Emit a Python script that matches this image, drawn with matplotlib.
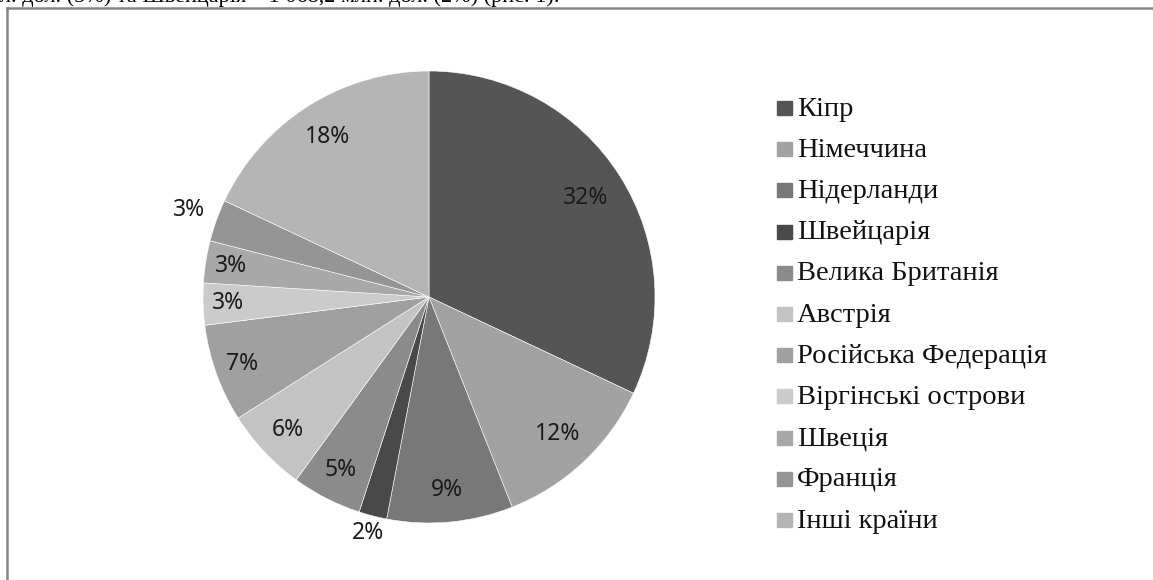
"""
Pie chart of investment by country (grayscale, Excel-style).
"""
import matplotlib.pyplot as plt
from matplotlib.lines import Line2D
import numpy as np

countries = ['Кіпр', 'Німеччина', 'Нідерланди', 'Швейцарія', 'Велика Британія',
             'Австрія', 'Російська Федерація', 'Віргінські острови', 'Швеція',
             'Франція', 'Інші країни']
shares = [32, 12, 9, 2, 5, 6, 7, 3, 3, 3, 18]
colors = ['#555555', '#a2a2a2', '#787878', '#494949', '#8b8b8b', '#c3c3c3',
          '#a0a0a0', '#cbcbcb', '#a8a8a8', '#959595', '#b5b5b5']
# radial position of each percentage label (fraction of radius)
label_dist = [0.82, 0.83, 0.86, 1.08, 0.86, 0.86, 0.88, 0.89, 0.885, 1.13, 0.84]

W, H = 1153, 580
fig = plt.figure(figsize=(W / 100, H / 100), dpi=100)

# pie axes: centre (429, 297) px, radius 226 px, limits +-1.1
cx, cy, r = 429, 297, 226
half = r * 1.1
ax = fig.add_axes([(cx - half) / W, (H - cy - half) / H, 2 * half / W, 2 * half / H])
wedges, _ = ax.pie(shares, colors=colors, startangle=90, counterclock=False,
                   wedgeprops=dict(edgecolor='white', linewidth=0.4))
ax.set_xlim(-1.1, 1.1)
ax.set_ylim(-1.1, 1.1)
ax.set_aspect('equal')
ax.axis('off')

for w, val, d in zip(wedges, shares, label_dist):
    ang = np.deg2rad((w.theta1 + w.theta2) / 2)
    ax.text(d * np.cos(ang), d * np.sin(ang), f'{val}%', ha='center', va='center',
            fontsize=16.5, family='Noto Sans', color='#1a1a1a')

# legend
for i, (name, c) in enumerate(zip(countries, colors)):
    y = 1 - (108 + i * 41.2) / H
    fig.add_artist(plt.Rectangle((777 / W, y - 7 / H), 15 / W, 14 / H,
                                 transform=fig.transFigure, color=c))
    fig.text(797 / W, y - 1 / H, name, fontsize=20.5, family='Liberation Serif',
             va='center', ha='left', color='#111111')

# frame of the chart area (partly cut off)
fig.add_artist(Line2D([7 / W, 1], [1 - 8 / H, 1 - 8 / H], color='#868686', lw=1.8))
fig.add_artist(Line2D([7 / W, 7 / W], [0, 1 - 8 / H], color='#868686', lw=1.8))

# cut-off line of document text above the chart
fig.text(0, 1 - 2 / H, 'л. дол. (5%) та Швейцарія – 1 068,2 млн. дол. (2%) (рис. 1).',
         fontsize=16, family='Liberation Serif', va='baseline', ha='left')

fig.savefig('out.png', dpi=100)
